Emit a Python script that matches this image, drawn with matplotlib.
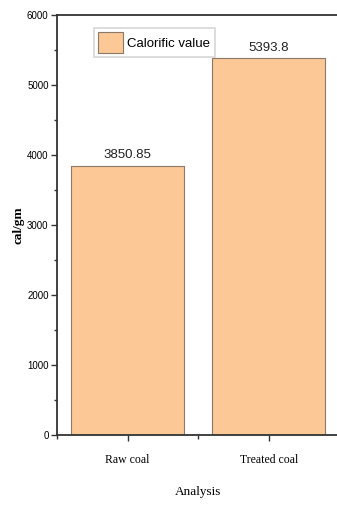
import matplotlib
matplotlib.use("Agg")
import matplotlib.pyplot as plt
from matplotlib.ticker import MultipleLocator

# data
categories = ["Raw coal", "Treated coal"]
calorific = [3850.85, 5393.8]
value_labels = ["3850.85", "5393.8"]

fig = plt.figure(figsize=(3.37, 5.08), dpi=100)
ax = fig.add_axes([0.169, 0.1437, 0.838, 0.826])

pos = [1, 2]
bars = ax.bar(pos, calorific, width=0.8, color="#fcc896", edgecolor="#8a7a6a",
              linewidth=0.8, label="Calorific value")

for x, v, lab in zip(pos, calorific, value_labels):
    ax.text(x, v + 60, lab, ha="center", va="bottom", fontsize=9.5,
            family="Liberation Sans", color="#222222")

ax.set_xlim(0.5, 2.5)
ax.set_ylim(0, 6000)
ax.set_xticks(pos)
ax.set_xticklabels(categories, family="Liberation Serif", fontsize=8.5)
ax.xaxis.set_minor_locator(MultipleLocator(0.5))
ax.yaxis.set_major_locator(MultipleLocator(1000))
ax.yaxis.set_minor_locator(MultipleLocator(500))
for lab in ax.get_yticklabels():
    lab.set_family("Liberation Sans")
    lab.set_fontsize(7)

ax.tick_params(axis="both", which="major", direction="out", length=4, width=1, color="#333333")
ax.tick_params(axis="both", which="minor", direction="out", length=2, width=1, color="#333333")
ax.tick_params(axis="x", which="minor", length=3)
ax.tick_params(axis="x", pad=10)
ax.tick_params(axis="y", pad=2)

for s in ["left", "bottom", "top"]:
    ax.spines[s].set_linewidth(1.3)
    ax.spines[s].set_color("#333333")
ax.spines["right"].set_visible(False)

ax.set_ylabel("cal/gm", family="Liberation Serif", fontweight="bold", fontsize=9.5, labelpad=2)
ax.set_xlabel("Analysis", family="Liberation Serif", fontsize=9.5, labelpad=14)

leg = ax.legend(loc="upper left", bbox_to_anchor=(0.13, 0.971),
                prop={"family": "Liberation Sans", "size": 9.5},
                fancybox=False, edgecolor="#cccccc", handlelength=1.9, handleheight=2.0,
                borderpad=0.35, handletextpad=0.3, borderaxespad=0)
leg.get_frame().set_linewidth(1.2)

fig.savefig("out.png", dpi=100)
